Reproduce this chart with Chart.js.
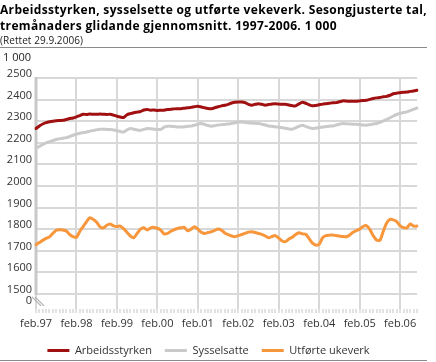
<!DOCTYPE html>
<html><head><meta charset="utf-8">
<script src="https://cdn.jsdelivr.net/npm/chart.js@4.4.0/dist/chart.umd.min.js"></script>
<style>
html,body{margin:0;padding:0;width:436px;height:362px;overflow:hidden;background:#fff;font-family:"Open Sans",sans-serif;}
#wrap{position:absolute;left:0;top:0;width:436px;height:366px;}
#title{position:absolute;left:0;top:2px;font-weight:bold;font-size:12px;line-height:16px;color:#000;white-space:nowrap;}
#title span{display:inline-block;}
#sub{position:absolute;left:0;top:33px;font-size:10px;line-height:14px;color:#222;white-space:nowrap;}
.rule{position:absolute;left:0;width:427px;height:1px;background:#8a8a8a;}
#unit{position:absolute;left:3px;top:50px;font-size:11px;line-height:14px;color:#222;}
</style></head><body>
<div id="wrap"><canvas id="c" width="436" height="366"></canvas></div>
<div id="title"><span id="t1">Arbeidsstyrken, sysselsette og utførte vekeverk. Sesongjusterte tal,</span><br><span id="t2">tremånaders glidande gjennomsnitt. 1997-2006. 1 000</span></div>
<div id="sub"><span id="s1">(Rettet 29.9.2006)</span></div>
<div class="rule" style="top:47px"></div>
<div id="unit">1 000</div>
<div class="rule" style="top:360px"></div>
<script>
const monthNames = ['jan','feb','mar','apr','mai','jun','jul','aug','sep','okt','nov','des'];
const startYear = 1997, startMonth = 1, nMonths = 114;
const categories = [];
for (let i = 0; i < nMonths; i++) {
  const m = (startMonth + i) % 12;
  const y = startYear + Math.floor((startMonth + i) / 12);
  categories.push(monthNames[m] + '.' + String(y).slice(2));
}
const seriesNames = ['Arbeidsstyrken', 'Sysselsatte', 'Utførte ukeverk'];
const arbeidsstyrken = [2266,2278,2287,2293,2297,2300,2302,2303,2304,2308,2312,2315,
2320,2326,2332,2331,2333,2332,2332,2333,2332,2331,2332,2328,
2323,2319,2317,2330,2335,2339,2342,2345,2352,2354,2351,2352,
2350,2351,2351,2354,2355,2357,2358,2358,2360,2362,2364,2367,
2369,2366,2362,2359,2358,2362,2367,2371,2374,2378,2384,2388,
2389,2389,2386,2378,2374,2378,2381,2378,2374,2377,2380,2381,
2379,2378,2378,2375,2372,2371,2380,2388,2383,2376,2371,2373,
2376,2379,2381,2383,2385,2386,2390,2394,2393,2392,2392,2392,
2394,2396,2397,2401,2405,2408,2410,2413,2415,2420,2427,2430,
2432,2434,2435,2438,2440,2443];
const sysselsatte = [2175,2183,2192,2200,2205,2210,2215,2218,2221,2224,2229,2235,
2240,2244,2247,2250,2254,2257,2260,2263,2263,2262,2261,2259,
2256,2252,2250,2260,2266,2263,2259,2258,2262,2266,2265,2263,
2261,2262,2272,2277,2276,2275,2273,2273,2274,2276,2277,2281,
2286,2289,2285,2280,2277,2279,2282,2284,2285,2287,2289,2293,
2296,2296,2294,2292,2291,2290,2289,2286,2282,2278,2276,2274,
2273,2270,2267,2264,2263,2269,2276,2281,2276,2270,2266,2268,
2270,2273,2275,2277,2278,2282,2286,2289,2288,2287,2286,2286,
2284,2282,2281,2284,2287,2289,2294,2301,2308,2316,2324,2331,
2336,2340,2343,2349,2355,2361];
const ukeverk = [1728,1738,1748,1757,1764,1780,1795,1797,1796,1791,1775,1765,
1762,1790,1812,1835,1853,1845,1832,1810,1806,1818,1824,1815,
1812,1814,1802,1785,1768,1760,1780,1800,1806,1796,1806,1808,
1804,1795,1778,1780,1790,1798,1803,1806,1808,1792,1800,1811,
1800,1785,1780,1784,1788,1794,1800,1795,1782,1774,1768,1765,
1770,1775,1780,1786,1788,1784,1780,1776,1768,1760,1766,1770,
1758,1745,1742,1754,1762,1775,1783,1778,1776,1756,1735,1726,
1730,1760,1770,1772,1773,1770,1768,1766,1765,1772,1785,1793,
1800,1812,1816,1799,1770,1750,1748,1790,1828,1845,1843,1835,
1815,1807,1806,1824,1814,1814];
const yTickValues = [1500,1600,1700,1800,1900,2000,2100,2200,2300,2400,2500];
const yZeroPos = 1448;
const yZeroLabel = '0';

function fitText(id, target){
  const el = document.getElementById(id);
  const w = el.getBoundingClientRect().width;
  const n = el.textContent.length;
  el.style.letterSpacing = ((target - w) / n) + 'px';
}
fitText('t1', 427); fitText('t2', 337); fitText('s1', 83);

const font = {family: '"Open Sans", sans-serif', size: 11};
const axisDecor = {
  id: 'axisDecor',
  beforeDatasetsDraw(chart) {
    const ctx = chart.ctx, ys = chart.scales.y, xs = chart.scales.x;
    const x0 = xs.left;
    const yTop = ys.getPixelForValue(2500), yB = ys.getPixelForValue(1500);
    ctx.save();
    ctx.strokeStyle = '#c8c8c8'; ctx.lineWidth = 3;
    ctx.beginPath(); ctx.moveTo(x0, yTop - 1); ctx.lineTo(x0, yB + 1); ctx.stroke();
    ctx.lineWidth = 1.3; ctx.strokeStyle = '#b0b0b0';
    for (const dx of [0, 3]) {
      ctx.beginPath(); ctx.moveTo(x0 - 4 + dx, yB + 3); ctx.lineTo(x0 + 5 + dx, yB + 12); ctx.stroke();
    }
    ctx.restore();
  }
};

new Chart(document.getElementById('c'), {
  type: 'line',
  data: {
    labels: categories,
    datasets: [
      {label: seriesNames[0], data: arbeidsstyrken, borderColor: '#a01010', backgroundColor: '#a01010', borderWidth: 3},
      {label: seriesNames[1], data: sysselsatte, borderColor: '#cacaca', backgroundColor: '#cacaca', borderWidth: 3},
      {label: seriesNames[2], data: ukeverk, borderColor: '#f7963a', backgroundColor: '#f7963a', borderWidth: 3}
    ]
  },
  options: {
    responsive: false,
    animation: false,
    events: [],
    elements: {
      line: {tension: 0.25, borderJoinStyle: 'round', borderCapStyle: 'round'},
      point: {radius: 0}
    },
    layout: {padding: {top: 78, right: 19, left: 0, bottom: 0}},
    scales: {
      x: {
        type: 'category',
        offset: false,
        afterFit: s => { s.height = 23; },
        border: {display: false},
        grid: {
          color: c => (c.index % 12 === 0) ? '#d8d8d8' : 'rgba(0,0,0,0)',
          lineWidth: 2,
          drawTicks: true,
          tickLength: 4,
          tickColor: '#c4c4c4',
          tickWidth: 1
        },
        ticks: {
          autoSkip: false, maxRotation: 0, minRotation: 0, padding: 4,
          color: '#333', font: font,
          callback: function(v) { const l = this.getLabelForValue(v); return l.startsWith('feb') ? l : ''; }
        }
      },
      y: {
        min: 1430, max: 2500,
        afterBuildTicks: s => { s.ticks = [yZeroPos].concat(yTickValues).map(v => ({value: v})); },
        afterFit: s => { s.width = 36; },
        border: {display: false},
        grid: {
          color: c => (c.tick && c.tick.value === yZeroPos) ? 'rgba(0,0,0,0)' : '#d8d8d8',
          lineWidth: 2,
          drawTicks: false
        },
        ticks: {
          padding: 4, labelOffset: -4, color: '#333', font: font,
          callback: v => v === yZeroPos ? yZeroLabel : String(v)
        }
      }
    },
    plugins: {
      legend: {
        position: 'bottom',
        labels: {usePointStyle: true, pointStyle: 'line', pointStyleWidth: 22, padding: 13, color: '#333', font: font}
      },
      tooltip: {enabled: false}
    }
  },
  plugins: [axisDecor]
});
</script>
</body></html>
